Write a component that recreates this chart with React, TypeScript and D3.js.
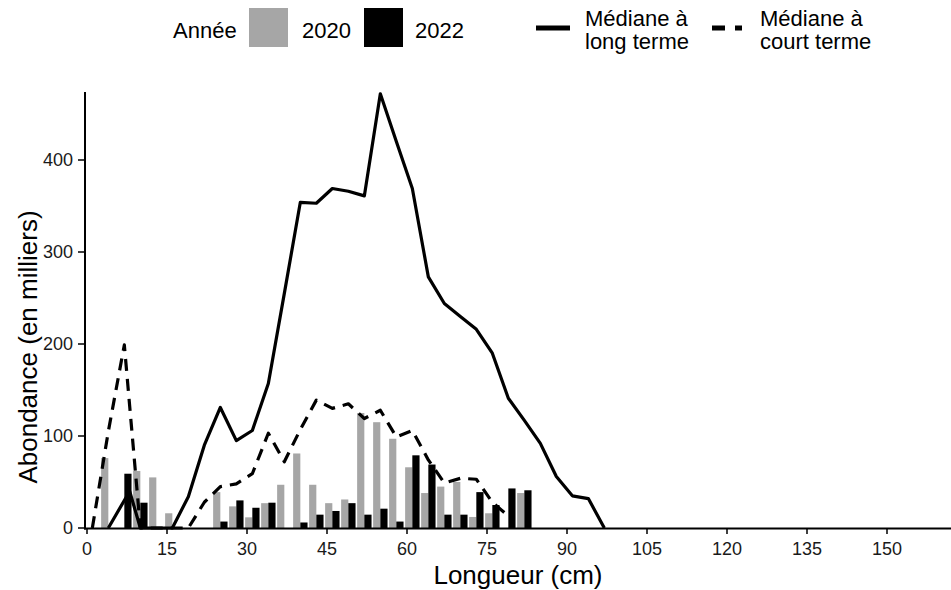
import React from "react";
import * as d3 from "d3";

const bins = [1, 4, 7, 10, 13, 16, 19, 22, 25, 28, 31, 34, 37, 40, 43, 46, 49, 52, 55, 58, 61, 64, 67, 70, 73, 76, 79, 82];
const abund2020 = [0, 76, 0, 62, 55, 16, 0, 0, 39, 23.5, 11.6, 27, 47, 81, 47, 27, 31, 125, 115, 97, 66, 38, 45, 50, 12, 16, 0, 38];
const abund2022 = [0, 0, 59, 27.5, 0, 0, 0, 0, 7, 30, 22, 27.5, 0, 6, 14.5, 18.5, 27, 14.5, 21, 7, 79, 69, 14.5, 14.5, 39, 25, 43, 41];

const longLen = [4, 8, 10, 13, 16, 19, 22, 25, 28, 31, 34, 37, 40, 43, 46, 49, 52, 55, 58, 61, 64, 67, 70, 73, 76, 79, 82, 85, 88, 91, 94, 97];
const longVal = [0, 40, 0, 0, 0, 34, 90, 131, 95, 106, 157, 255, 354, 353, 369, 366, 361, 472, 420, 369, 273, 244, 230, 216, 190, 141, 117, 92, 56, 35, 32, 0];

const shortLen = [1, 4, 7, 10, 13, 16, 19, 22, 25, 28, 31, 34, 37, 40, 43, 46, 49, 52, 55, 58, 61, 64, 67, 70, 73, 76, 79];
const shortVal = [0, 105, 199, 0, 0, 0, 0, 28, 45, 48, 59, 103, 72, 107, 139, 130, 135, 119, 128, 99, 106, 74, 49, 54, 53, 28, 13];

const xTicks = [0, 15, 30, 45, 60, 75, 90, 105, 120, 135, 150];
const yTicks = [0, 100, 200, 300, 400];

const FONT = "'Liberation Sans', Arial, sans-serif";
const GREY = "#a6a6a6";

export default function App() {
  const W = 951, H = 590;
  const x = d3.scaleLinear().domain([0, 150]).range([87, 887]);
  const y = d3.scaleLinear().domain([0, 400]).range([528, 160]);
  const halfW = 1.35;

  const line = d3.line<[number, number]>().x(d => x(d[0])).y(d => y(d[1])).curve(d3.curveLinear);
  const longPath = line(longLen.map((l, i) => [l, longVal[i]]) as [number, number][]) || "";
  const shortPath = line(shortLen.map((l, i) => [l, shortVal[i]]) as [number, number][]) || "";

  const axisLeft = 85;
  const axisTop = y(474);

  return (
    <svg width={W} height={H} style={{ position: "absolute", left: 0, top: 0, background: "#fff" }} fontFamily={FONT}>
      <rect x={0} y={0} width={W} height={H} fill="#fff" />
      {/* bars */}
      {bins.map((b, i) => (
        <g key={b}>
          {abund2020[i] > 0 && (
            <rect x={x(b - halfW)} y={y(abund2020[i])} width={x(b) - x(b - halfW)} height={y(0) - y(abund2020[i])} fill={GREY} />
          )}
          {abund2022[i] > 0 && (
            <rect x={x(b)} y={y(abund2022[i])} width={x(b + halfW) - x(b)} height={y(0) - y(abund2022[i])} fill="#000" />
          )}
        </g>
      ))}
      {/* lines */}
      <path d={longPath} fill="none" stroke="#000" strokeWidth={3.2} strokeLinejoin="round" />
      <path d={shortPath} fill="none" stroke="#000" strokeWidth={3.2} strokeDasharray="12 8" strokeLinejoin="round" />

      {/* axes */}
      <line x1={axisLeft} x2={axisLeft} y1={axisTop} y2={529.5} stroke="#000" strokeWidth={2} />
      <line x1={axisLeft - 1} x2={W} y1={528.5} y2={528.5} stroke="#000" strokeWidth={2} />
      {yTicks.map(t => (
        <g key={"y" + t}>
          <line x1={78} x2={axisLeft} y1={y(t)} y2={y(t)} stroke="#000" strokeWidth={1.5} />
          <text x={73} y={y(t)} dy="0.35em" textAnchor="end" fontSize={18} fill="#1a1a1a">{t}</text>
        </g>
      ))}
      {xTicks.map(t => (
        <g key={"x" + t}>
          <line x1={x(t)} x2={x(t)} y1={528} y2={534} stroke="#000" strokeWidth={1.5} />
          <text x={x(t)} y={554.5} textAnchor="middle" fontSize={18} fill="#1a1a1a">{t}</text>
        </g>
      ))}
      <text x={518} y={584} textAnchor="middle" fontSize={26} fill="#000">Longueur (cm)</text>
      <text transform="translate(28,347) rotate(-90)" textAnchor="middle" dy="0.35em" fontSize={26} fill="#000">Abondance (en milliers)</text>

      {/* legend */}
      <text x={173} y={38} fontSize={22} fill="#000">Année</text>
      <rect x={249} y={8} width={39} height={39} fill={GREY} />
      <text x={302} y={38} fontSize={22} fill="#000">2020</text>
      <rect x={364} y={8} width={39} height={39} fill="#000" />
      <text x={415} y={38} fontSize={22} fill="#000">2022</text>

      <line x1={536} x2={570} y1={28} y2={28} stroke="#000" strokeWidth={5} />
      <text x={585} y={26} fontSize={22} fill="#000">Médiane à</text>
      <text x={585} y={49} fontSize={22} fill="#000">long terme</text>
      <line x1={712} x2={742} y1={28} y2={28} stroke="#000" strokeWidth={5} strokeDasharray="13 10" />
      <text x={760} y={26} fontSize={22} fill="#000">Médiane à</text>
      <text x={760} y={49} fontSize={22} fill="#000">court terme</text>
    </svg>
  );
}
